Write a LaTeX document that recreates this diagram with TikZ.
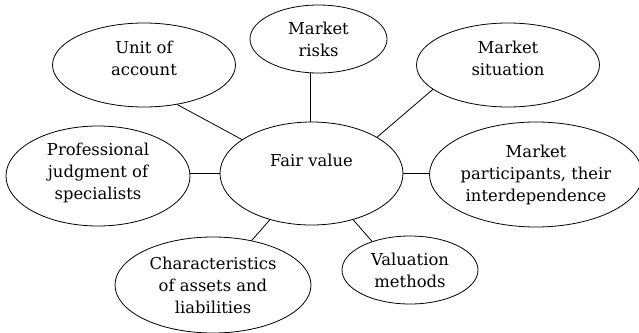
\documentclass[tikz,border=0pt]{standalone}
\usepackage{fontspec}
\setmainfont{DejaVu Serif}
\usetikzlibrary{shapes.geometric}
\begin{document}
\begin{tikzpicture}[x=1pt,y=-1pt,
  bub/.style={ellipse, draw, line width=0.8pt, inner sep=0pt, align=center,
    font=\fontsize{16.4}{22}\selectfont},
  txt/.style={inner sep=0pt, align=center, font=\fontsize{16.4}{22}\selectfont},
  link/.style={line width=0.8pt}]
\useasboundingbox (0,0) rectangle (639,332);
\node[bub, minimum width=183pt, minimum height=103pt] (fv) at (311.5,173.5) {};
\node[txt] (fvt) at (311.5,160) {Fair value};
\node[bub, minimum width=183pt, minimum height=84pt] (uoa) at (144,65) {};
\node[txt] (uoat) at (144,58) {Unit of\\account};
\node[bub, minimum width=137pt, minimum height=68pt] (mr) at (318.5,39) {Market\\risks};
\node[bub, minimum width=205pt, minimum height=105pt] (mp) at (536,174.5) {Market\\participants, their\\interdependence};
\node[bub, minimum width=183pt, minimum height=84pt] (ms) at (508,65) {};
\node[txt] (mst) at (508,58) {Market\\situation};
\node[bub, minimum width=136pt, minimum height=68pt] (vm) at (410,270) {Valuation\\methods};
\node[bub, minimum width=196pt, minimum height=96pt] (cal) at (213,285) {Characteristics\\of assets and\\liabilities};
\node[bub, minimum width=184pt, minimum height=100pt] (pj) at (98,176) {};
\node[txt] (pjt) at (98,173) {Professional\\judgment of\\specialists};
\draw[link] (fv.154) -- (uoa.310);
\draw[link] (fv.91) -- (fv.91 |- mr.south);
\draw[link] (fv.29) -- (ms.198);
\draw[link] (fv.0) -- (mp.west |- fv.0);
\draw[link] (fv.312) -- (vm.143);
\draw[link] (fv.228) -- (cal.49);
\draw[link] (fv.180) -- (pj.east |- fv.180);
\end{tikzpicture}
\end{document}
